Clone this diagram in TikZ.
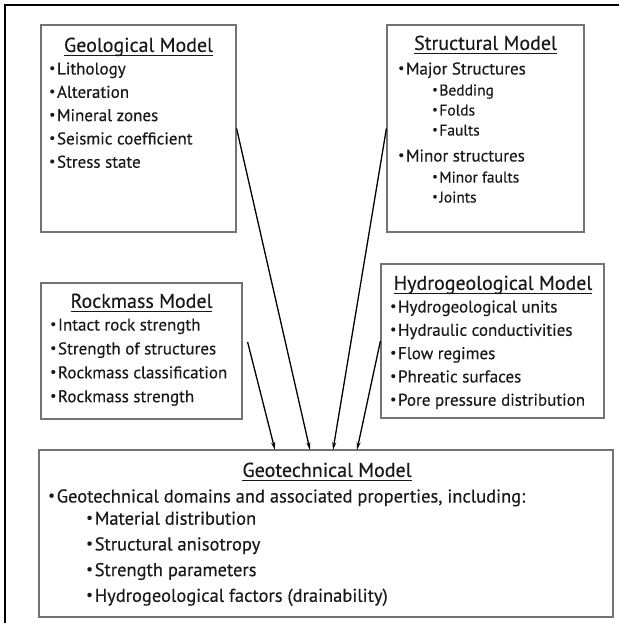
\documentclass[tikz,border=0pt]{standalone}
\usepackage{fontspec}
\setmainfont{PT Sans}[FakeBold=0.35]
\usetikzlibrary{arrows.meta,positioning}

\newcommand{\bul}{\raisebox{0.12em}{\scalebox{0.8}{\textbullet}}\hspace{0.1em}}
\newcommand{\titul}[1]{\setbox0\hbox{#1}\rlap{\rule[-4.5pt]{\wd0}{1.4pt}}\box0}

\begin{document}
\begin{tikzpicture}[x=1pt,y=-1pt,
    model/.style={draw=black!55,line width=1.2pt,inner sep=0pt},
    title/.style={font=\fontsize{20}{22}\selectfont,text=black!90,inner sep=0pt,anchor=center},
    item/.style={font=\fontsize{17}{19}\selectfont,text=black!90,inner sep=0pt,anchor=west,
        text height=0.7em,text depth=0.2em},
    subitem/.style={item,font=\fontsize{15.5}{17}\selectfont},
    bigitem/.style={item,font=\fontsize{18.5}{20}\selectfont},
    feed/.style={line width=1.3pt,-{Stealth[length=8pt,width=4pt]}}]
    \useasboundingbox (0,0) rectangle (619,623);
    % frame
    \draw[line width=2pt] (5,623) -- (5,5) -- (619,5);

    % the five models
    \node[model,minimum width=195,minimum height=207] (geo) at (138.5,128.5) {};
    \node[model,minimum width=197,minimum height=207] (struct) at (485.5,128.5) {};
    \node[model,minimum width=201,minimum height=136] (rock) at (141.5,351) {};
    \node[model,minimum width=223,minimum height=154] (hydro) at (492.5,341) {};
    \node[model,minimum width=574,minimum height=167] (geot) at (326,533.5) {};

    % geological
    \node[title] (geo-t) at (138.5,47) {\titul{Geological Model}};
    \foreach \t [count=\i from 0] in {Lithology,Alteration,Mineral zones,
        Seismic coefficient,Stress state}
        \node[item] (geo-\i) at (49,72+23.3*\i) {\bul\t};

    % structural
    \node[title] (struct-t) at (485.5,45) {\titul{Structural Model}};
    \node[item] (struct-a) at (398,72) {\bul Major Structures};
    \node[subitem] (struct-a1) at (432,93) {\bul Bedding};
    \node[subitem] (struct-a2) at (432,113) {\bul Folds};
    \node[subitem] (struct-a3) at (432,133) {\bul Faults};
    \node[item] (struct-b) at (398,159) {\bul Minor structures};
    \node[subitem] (struct-b1) at (432,180) {\bul Minor faults};
    \node[subitem] (struct-b2) at (432,200) {\bul Joints};

    % rockmass
    \node[title] (rock-t) at (141.5,303) {\titul{Rockmass Model}};
    \foreach \t [count=\i from 0] in {Intact rock strength,Strength of structures,
        Rockmass classification,Rockmass strength}
        \node[item] (rock-\i) at (50,328+23.9*\i) {\bul\t};

    % hydrogeological
    \node[title] (hydro-t) at (493,285) {\titul{Hydrogeological Model}};
    \foreach \t [count=\i from 0] in {Hydrogeological units,Hydraulic conductivities,
        Flow regimes,Phreatic surfaces,Pore pressure distribution}
        \node[item] (hydro-\i) at (390,310+23.3*\i) {\bul\t};

    % geotechnical
    \node[title] (geot-t) at (327,472) {\titul{Geotechnical Model}};
    \node[bigitem] (geot-0) at (48,500)
        {\bul Geotechnical domains and associated properties, including:};
    \foreach \t [count=\i] in {Material distribution,Structural anisotropy,
        Strength parameters,Hydrogeological factors (drainability)}
        \node[bigitem] (geot-\i) at (86,496.5+25.7*\i) {\bul\t};

    % inputs
    \coordinate (in-rock) at (275,450);
    \coordinate (in-geo) at (310,450);
    \coordinate (in-struct) at (333,450);
    \coordinate (in-hydro) at (357,450);
    \draw[feed] ([xshift=5pt,yshift=9pt]rock.east) -- (in-rock);
    \draw[feed] (geo.east) -- (in-geo);
    \draw[feed] (struct.west) -- (in-struct);
    \draw[feed] (hydro.west) -- (in-hydro);
\end{tikzpicture}
\end{document}
